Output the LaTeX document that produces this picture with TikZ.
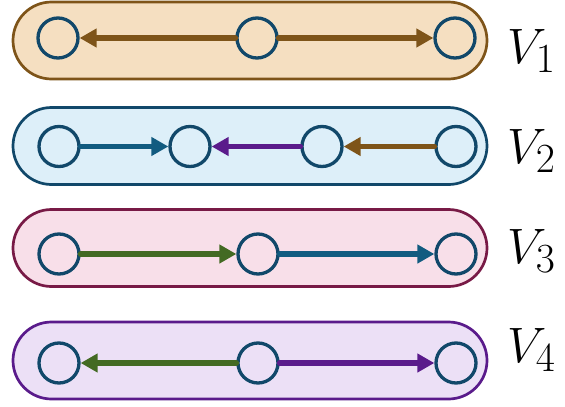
\documentclass[tikz,border=0pt]{standalone}
\usetikzlibrary{arrows.meta}
\definecolor{nodeblue}{HTML}{11486A}
\definecolor{brownc}{HTML}{7E5419}
\definecolor{bluec}{HTML}{115B80}
\definecolor{purplec}{HTML}{5A1B8B}
\definecolor{greenc}{HTML}{436A23}
\definecolor{maroonc}{HTML}{781A46}
\definecolor{fillA}{HTML}{F5DFC1}
\definecolor{fillB}{HTML}{DDEFF9}
\definecolor{fillC}{HTML}{F8DFE9}
\definecolor{fillD}{HTML}{ECE0F6}
\begin{document}
\begin{tikzpicture}[x=1pt,y=-1pt,
 vert/.style={circle,draw=nodeblue,line width=3.3pt,minimum size=40pt,inner sep=0pt},
 group/.style={rounded corners=38.5pt,line width=2.7pt,minimum width=474pt,minimum height=77pt,inner sep=0pt},
 edge/.style={line width=5.5pt,line cap=round,-{Triangle[length=17pt,width=18pt]}},
 lab/.style={font=\Huge,scale=2,inner sep=0pt,anchor=base west}]
\useasboundingbox (0,0) rectangle (565,407);
% groups
\node[group,draw=brownc,fill=fillA] (g1) at (250,40.5) {};
\node[group,draw=nodeblue,fill=fillB] (g2) at (250,146) {};
\node[group,draw=maroonc,fill=fillC] (g3) at (250,248) {};
\node[group,draw=purplec,fill=fillD] (g4) at (250,360.5) {};
% vertices
\node[vert] (v11) at (58,38) {};
\node[vert] (v12) at (257,38) {};
\node[vert] (v13) at (455,38) {};
\node[vert] (v21) at (59,146.5) {};
\node[vert] (v22) at (190,146.5) {};
\node[vert] (v23) at (322,146.5) {};
\node[vert] (v24) at (456,146.5) {};
\node[vert] (v31) at (59,254) {};
\node[vert] (v32) at (258,254) {};
\node[vert] (v33) at (456,254) {};
\node[vert] (v41) at (59,363) {};
\node[vert] (v42) at (258,363) {};
\node[vert] (v43) at (456,363) {};
% edges
\draw[edge,brownc] (v12) -- (v11);
\draw[edge,brownc] (v12) -- (v13);
\draw[edge,bluec] (v21) -- (v22);
\draw[edge,purplec] (v23) -- (v22);
\draw[edge,brownc] (v24) -- (v23);
\draw[edge,greenc] (v31) -- (v32);
\draw[edge,bluec] (v32) -- (v33);
\draw[edge,greenc] (v42) -- (v41);
\draw[edge,purplec] (v42) -- (v43);
% labels
\node[lab] (l1) at (507,63) {$V_1$};
\node[lab] (l2) at (507,163) {$V_2$};
\node[lab] (l3) at (507,263) {$V_3$};
\node[lab] (l4) at (507,362) {$V_4$};
\end{tikzpicture}
\end{document}
